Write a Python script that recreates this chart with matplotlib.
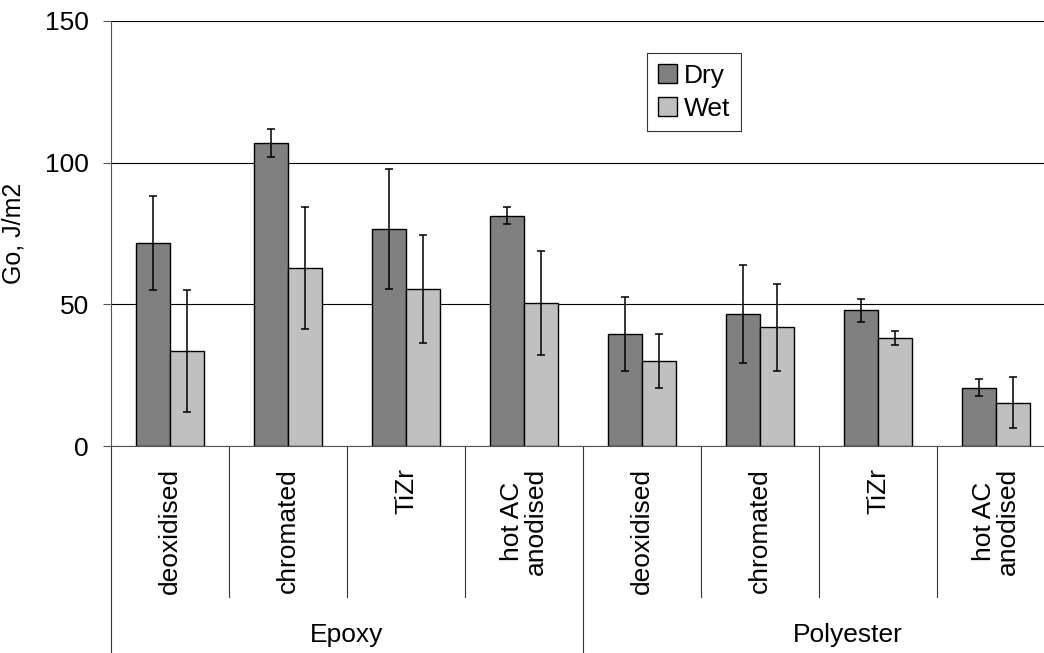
import numpy as np
import matplotlib
matplotlib.use('Agg')
import matplotlib.pyplot as plt

plt.rcParams['font.family'] = ['Liberation Sans', 'DejaVu Sans']

# data
treatments = ['deoxidised', 'chromated', 'TiZr', 'hot AC\nanodised',
              'deoxidised', 'chromated', 'TiZr', 'hot AC\nanodised']
groups = ['Epoxy', 'Polyester']
dry = [71.6, 106.9, 76.6, 81.3, 39.5, 46.5, 47.9, 20.5]
dry_err = [16.7, 4.9, 21.2, 3.0, 13.0, 17.3, 4.1, 3.0]
wet = [33.4, 62.9, 55.4, 50.4, 30.0, 41.9, 38.1, 15.3]
wet_err = [21.5, 21.6, 19.0, 18.3, 9.7, 15.3, 2.4, 9.0]

W, H = 1044, 653
fig = plt.figure(figsize=(W / 100, H / 100), dpi=100)
# plot area runs past the right edge of the picture, as in the original
ax = fig.add_axes([111 / W, (H - 446) / H, 944 / W, 425 / H])

x = np.arange(len(treatments))
bw = 0.288
ekw = dict(elinewidth=1.1, capthick=1.1, ecolor='black')
ax.bar(x - bw / 2, dry, bw, yerr=dry_err, color='#808080', edgecolor='black',
       linewidth=1.0, capsize=3, error_kw=ekw, label='Dry', zorder=3)
ax.bar(x + bw / 2, wet, bw, yerr=wet_err, color='#C0C0C0', edgecolor='black',
       linewidth=1.0, capsize=3, error_kw=ekw, label='Wet', zorder=3)

ax.set_xlim(-0.5, 7.5)
ax.set_ylim(0, 150)
ax.set_yticks([0, 50, 100, 150])
ax.yaxis.grid(True, color='black', linewidth=0.8, zorder=0)
ax.tick_params(axis='y', direction='out', length=6, width=0.8, pad=10,
               labelsize=19, color='#555555')
ax.set_xticks([])
for s in ['top', 'right']:
    ax.spines[s].set_visible(False)
ax.spines['left'].set_color('#555555')
ax.spines['bottom'].set_color('#555555')
ax.set_ylabel('Go, J/m2', fontsize=18, labelpad=14)

# category separators and group separators below the axis
sep_bottom = -53.2
grp_bottom = -75
for b in np.arange(-0.5, 8.0, 1.0):
    yb = grp_bottom if b in (-0.5, 3.5, 7.5) else sep_bottom
    ax.plot([b, b], [0, yb], color='#333333', linewidth=0.8, clip_on=False)

for xi, lab in zip(x, treatments):
    ax.text(xi, -7.8, lab, rotation=90, ha='center', va='top', fontsize=19,
            linespacing=0.95)

group_x = [1.5, 5.74]
for gx, g in zip(group_x, groups):
    ax.text(gx, -69.3, g, ha='center', va='baseline', fontsize=19)

leg = ax.legend(loc='upper left', bbox_to_anchor=(647 / W, (H - 53) / H),
                bbox_transform=fig.transFigure, fontsize=19, frameon=True,
                fancybox=False, framealpha=1, edgecolor='#333333',
                handlelength=0.75, handleheight=0.75, handletextpad=0.25,
                borderpad=0.4, labelspacing=0.35, borderaxespad=0)
leg.get_frame().set_linewidth(0.8)

fig.savefig('out.png', dpi=100)
